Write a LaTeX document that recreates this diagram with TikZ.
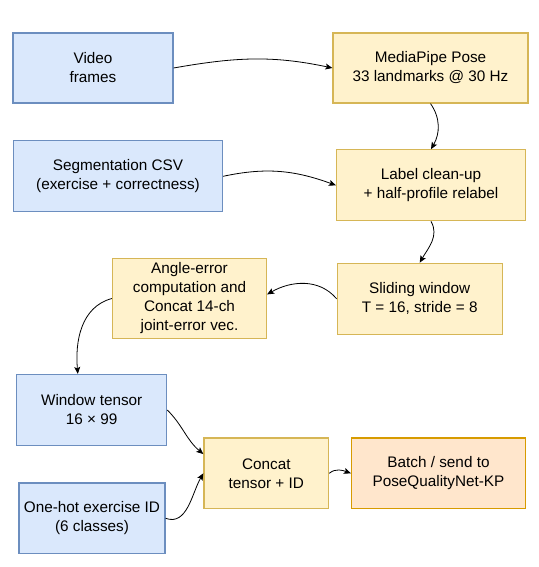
\documentclass[tikz,border=0pt]{standalone}
\usepackage{fontspec}
\setmainfont{Liberation Sans}
\usetikzlibrary{arrows.meta}

\definecolor{inFill}{HTML}{DAE8FC}
\definecolor{inLine}{HTML}{6C8EBF}
\definecolor{procFill}{HTML}{FFF2CC}
\definecolor{procLine}{HTML}{D6B656}
\definecolor{outFill}{HTML}{FFE6CC}
\definecolor{outLine}{HTML}{D79B00}

\tikzset{
    box/.style={draw, line width=1.2pt, align=center, inner sep=0pt,
        font=\fontsize{15.3}{19}\selectfont},
    inbox/.style={box, fill=inFill, draw=inLine},
    procbox/.style={box, fill=procFill, draw=procLine},
    outbox/.style={box, fill=outFill, draw=outLine},
    link/.style={line width=0.8pt, -{Stealth[length=7pt,width=6pt,inset=1.5pt]}}
}

\begin{document}
\begin{tikzpicture}[x=1pt,y=1pt]
    \useasboundingbox (0,0) rectangle (538,-567);

    % inputs
    \node[inbox, minimum width=160, minimum height=70] (video) at (93,-68) {Video\\frames};
    \node[inbox, minimum width=209, minimum height=71] (segcsv) at (118,-176.3) {Segmentation CSV\\(exercise + correctness)};
    \node[inbox, minimum width=150, minimum height=71] (wtensor) at (91.7,-410) {Window tensor\\16 × 99};
    \node[inbox, minimum width=146, minimum height=70.7] (onehot) at (92,-518.3) {One-hot exercise ID\\(6 classes)};

    % processing steps
    \node[procbox, minimum width=195, minimum height=70] (mpipe) at (430.5,-68) {MediaPipe Pose\\33 landmarks @ 30 Hz};
    \node[procbox, minimum width=189, minimum height=71] (clean) at (431,-185.3) {Label clean-up\\+ half-profile relabel};
    \node[procbox, minimum width=165, minimum height=71] (slide) at (419.7,-298.8) {Sliding window\\T = 16, stride = 8};
    \node[procbox, minimum width=154, minimum height=80] (angle) at (189.5,-298.5) {Angle-error\\computation and\\Concat 14-ch\\joint-error vec.};
    \node[procbox, minimum width=124.7, minimum height=70.7] (concat) at (266.3,-473.3) {Concat\\tensor + ID};

    % output
    \node[outbox, minimum width=174, minimum height=70.7] (batch) at (438.5,-473.3) {Batch / send to\\PoseQualityNet-KP};

    % connectors
    \draw[link] (video.east) to[out=10, in=168] (mpipe.west);
    \draw[link] (mpipe.south) to[out=-55, in=60] (clean.north);
    \draw[link] (segcsv.east) to[out=12, in=160] (clean.west);
    \draw[link] (clean.south) to[out=-60, in=60] (slide.north);
    \draw[link] (slide.west) to[out=130, in=30] (angle.3);
    \draw[link] (angle.west) to[out=195, in=95] (wtensor.111);
    \draw[link] (wtensor.east) to[out=-45, in=140] (concat.163);
    \draw[link] (onehot.east) to[out=-20, in=240] (concat.west);
    \draw[link] (concat.east) to[out=40, in=160] (batch.west);
\end{tikzpicture}
\end{document}
